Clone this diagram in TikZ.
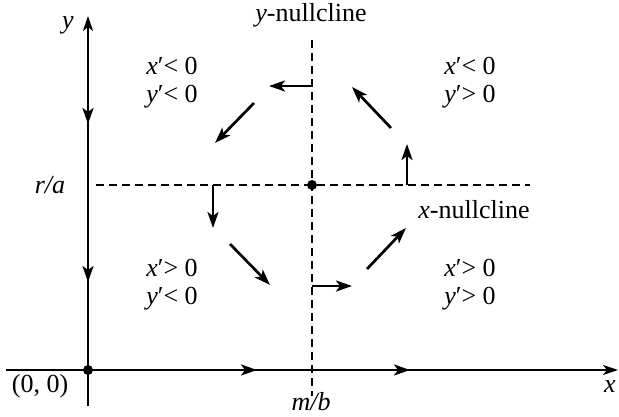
\documentclass[tikz,border=0pt]{standalone}
\usepackage{fontspec}
\setmainfont{Liberation Serif}
\usetikzlibrary{arrows.meta}
\begin{document}
\begin{tikzpicture}[x=1pt,y=-1pt,
  axis/.style={line width=1.5pt},
  dline/.style={line width=1.2pt, dash pattern=on 8pt off 5pt},
  fld/.style={line width=2.7pt, -{Stealth[length=16pt,width=11pt,inset=4pt]}},
  lbl/.style={font=\fontsize{26}{28}\selectfont, inner sep=0pt},
  dot/.style={circle, fill=black, inner sep=0pt, minimum size=10pt}]
\useasboundingbox (0,0) rectangle (619,417);
% axes
\coordinate (xs) at (6,370); \coordinate (xe) at (618,370);
\coordinate (ys) at (88,406); \coordinate (ye) at (88,16);
\draw[axis, -{Stealth[length=15pt,width=10pt,inset=4pt]}] (xs) -- (xe);
\draw[axis, -{Stealth[length=15pt,width=10pt,inset=4pt]}] (ys) -- (ye);
% nullclines
\coordinate (vs) at (312,40); \coordinate (ve) at (312,396);
\coordinate (hs) at (96,185); \coordinate (he) at (530,185);
\draw[dline] (vs) -- (ve);
\draw[dline] (hs) -- (he);
\node[dot] (eq) at (312,185) {};
\node[dot] (o) at (88,370) {};
% axis arrows
\coordinate (a1) at (88,86); \coordinate (a1e) at (88,124);
\coordinate (a2) at (88,242); \coordinate (a2e) at (88,282);
\coordinate (a3) at (217,370); \coordinate (a3e) at (257,370);
\coordinate (a4) at (370,370); \coordinate (a4e) at (410,370);
\draw[fld] (a1) -- (a1e);
\draw[fld] (a2) -- (a2e);
\draw[fld] (a3) -- (a3e);
\draw[fld] (a4) -- (a4e);
% field arrows
\coordinate (b1) at (312,86); \coordinate (b1e) at (269,86);
\coordinate (b2) at (254,103); \coordinate (b2e) at (215,143);
\coordinate (b3) at (213,185); \coordinate (b3e) at (213,228);
\coordinate (b4) at (230,244); \coordinate (b4e) at (270,285);
\coordinate (b5) at (312,286); \coordinate (b5e) at (352,286);
\coordinate (b6) at (367,269); \coordinate (b6e) at (406,228);
\coordinate (b7) at (407,185); \coordinate (b7e) at (407,144);
\coordinate (b8) at (391,128); \coordinate (b8e) at (352,87);
\draw[fld] (b1) -- (b1e);
\draw[fld] (b2) -- (b2e);
\draw[fld] (b3) -- (b3e);
\draw[fld] (b4) -- (b4e);
\draw[fld] (b5) -- (b5e);
\draw[fld] (b6) -- (b6e);
\draw[fld] (b7) -- (b7e);
\draw[fld] (b8) -- (b8e);
% labels
\node[lbl] (ly) at (68,25) {\textit{y}};
\node[lbl] (lx) at (610,387) {\textit{x}};
\node[lbl] (lyn) at (311,15) {\textit{y}-nullcline};
\node[lbl] (lxn) at (474,210) {\textit{x}-nullcline};
\node[lbl] (lra) at (50,185) {\textit{r/a}};
\node[lbl] (lmb) at (311,402) {\textit{m/b}};
\node[lbl] (lo) at (40,386) {(0, 0)};
\node[lbl, align=left] (q1) at (172,83) {\textit{x}′< 0\\\textit{y}′< 0};
\node[lbl, align=left] (q2) at (470,83) {\textit{x}′< 0\\\textit{y}′> 0};
\node[lbl, align=left] (q3) at (172,285) {\textit{x}′> 0\\\textit{y}′< 0};
\node[lbl, align=left] (q4) at (470,285) {\textit{x}′> 0\\\textit{y}′> 0};
\end{tikzpicture}
\end{document}
